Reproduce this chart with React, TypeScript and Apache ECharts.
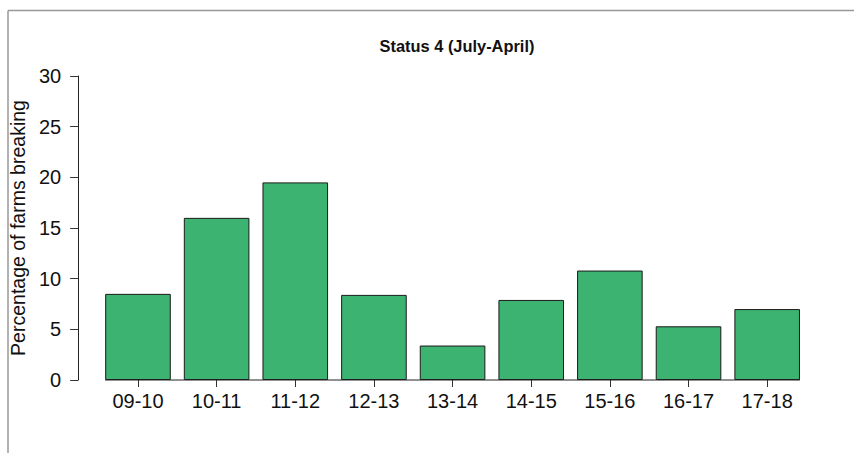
import React, { useEffect, useRef } from "react";
import * as echarts from "echarts";

const categories = ["09-10", "10-11", "11-12", "12-13", "13-14", "14-15", "15-16", "16-17", "17-18"];
const values = [8.5, 16.0, 19.5, 8.4, 3.4, 7.9, 10.8, 5.3, 7.0];
const yTicks = { min: 0, max: 30, interval: 5 };
const titleText = "Status 4 (July-April)";
const yName = "Percentage of farms breaking";

const FONT = "'Liberation Sans', Arial, sans-serif";

export default function App() {
  const ref = useRef<HTMLDivElement>(null);
  useEffect(() => {
    if (!ref.current) return;
    const chart = echarts.init(ref.current, null, { renderer: "svg" });
    const option: any = {
      animation: false,
      backgroundColor: "#ffffff",
      title: {
        text: titleText,
        left: 452,
        textAlign: "center",
        top: 33,
        textStyle: { fontFamily: FONT, fontSize: 16.4, fontWeight: "bold", color: "#111" },
      },
      grid: { left: 96.5, right: 47.5, top: 76, bottom: 73 },
      xAxis: {
        type: "category",
        data: categories,
        axisLine: { show: false },
        axisTick: { show: true, alignWithLabel: true, length: 7, lineStyle: { color: "#333", width: 1 } },
        axisLabel: { fontFamily: FONT, fontSize: 20, color: "#111", margin: 11 },
        splitLine: { show: false },
      },
      yAxis: {
        type: "value",
        min: yTicks.min,
        max: yTicks.max,
        interval: yTicks.interval,
        offset: 20.5,
        name: yName,
        nameLocation: "middle",
        nameRotate: 90,
        nameGap: 50,
        nameTextStyle: { fontFamily: FONT, fontSize: 19.5, color: "#111" },
        axisLine: { show: true, lineStyle: { color: "#222", width: 1 } },
        axisTick: { show: true, length: 8, lineStyle: { color: "#333", width: 1 } },
        axisLabel: { fontFamily: FONT, fontSize: 20, color: "#111", margin: 17 },
        splitLine: { show: false },
      },
      series: [
        {
          type: "bar",
          data: values,
          barCategoryGap: "16.6%",
          itemStyle: { color: "#3CB371", borderColor: "#1a1a1a", borderWidth: 1 },
        },
      ],
      graphic: [
        { type: "line", shape: { x1: 8, y1: 10.5, x2: 854, y2: 10.5 }, style: { stroke: "#999", lineWidth: 1.5 } },
        { type: "line", shape: { x1: 8, y1: 10.5, x2: 8, y2: 453 }, style: { stroke: "#999", lineWidth: 1.5 } },
      ],
    };
    chart.setOption(option);
    // x axis baseline spanning only the bars (as in R barplot)
    const p0 = chart.convertToPixel({ xAxisIndex: 0 }, categories[0]) as number;
    const p1 = chart.convertToPixel({ xAxisIndex: 0 }, categories[1]) as number;
    const pn = chart.convertToPixel({ xAxisIndex: 0 }, categories[categories.length - 1]) as number;
    const y0 = chart.convertToPixel({ yAxisIndex: 0 }, 0) as number;
    const half = ((p1 - p0) * (1 - 0.166)) / 2;
    chart.setOption({
      graphic: [
        ...option.graphic,
        { type: "line", shape: { x1: p0 - half, y1: y0, x2: pn + half, y2: y0 }, style: { stroke: "#222", lineWidth: 1 }, z: 10 },
      ],
    });
    return () => chart.dispose();
  }, []);
  return <div ref={ref} style={{ position: "fixed", left: 0, top: 0, width: 854, height: 453 }} />;
}
